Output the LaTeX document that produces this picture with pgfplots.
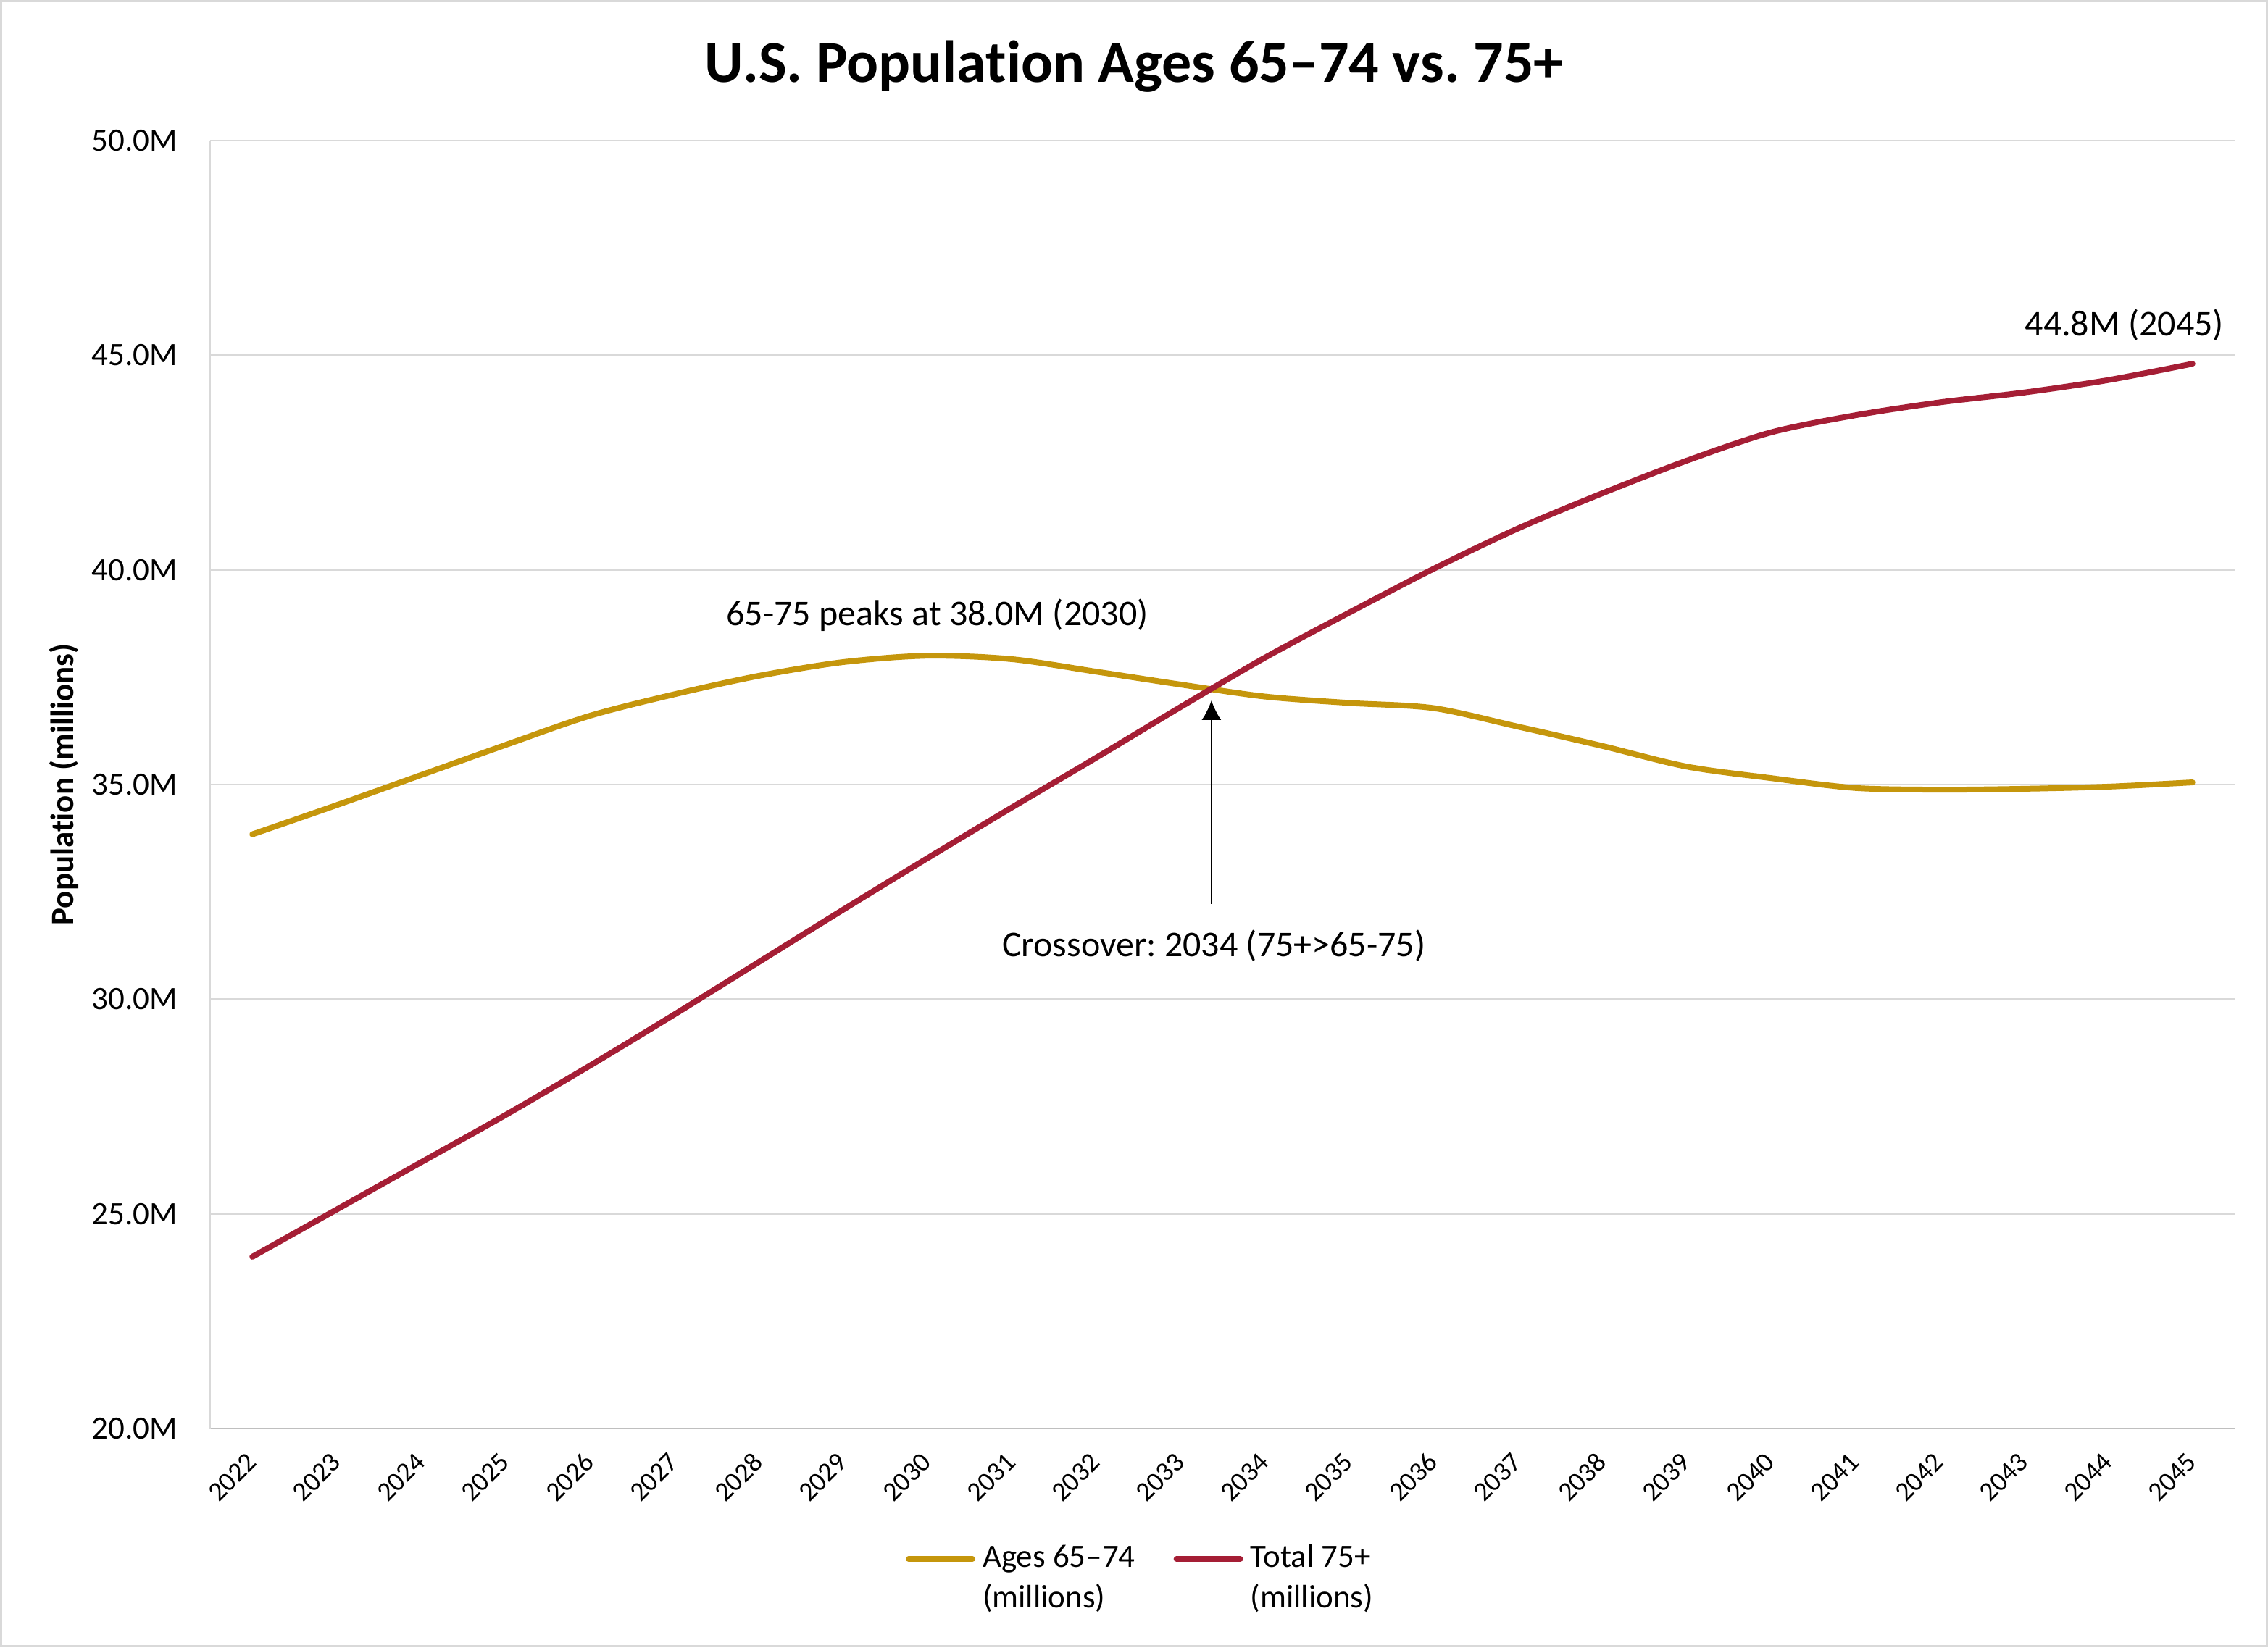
\documentclass[border=0pt]{standalone}
\usepackage{pgfplots}
\pgfplotsset{compat=1.18}
\usepackage{fontspec}
\setmainfont{Carlito}[Ligatures=NoCommon]
\usetikzlibrary{arrows.meta}
\frenchspacing

\definecolor{agesgold}{RGB}{197,150,12}
\definecolor{totalred}{RGB}{165,30,53}
\definecolor{gridgray}{RGB}{217,217,217}
\definecolor{axisgray}{RGB}{191,191,191}

% Population projections, millions
\pgfplotstableread{
year  ages6574  total75
2022  33.84     24.00
2023  34.52     25.10
2024  35.22     26.20
2025  35.92     27.30
2026  36.60     28.45
2027  37.10     29.64
2028  37.53     30.86
2029  37.85     32.08
2030  38.00     33.28
2031  37.92     34.46
2032  37.63     35.62
2033  37.33     36.80
2034  37.05     37.95
2035  36.90     39.00
2036  36.78     40.02
2037  36.35     40.96
2038  35.90     41.78
2039  35.42     42.54
2040  35.15     43.20
2041  34.92     43.60
2042  34.88     43.90
2043  34.90     44.13
2044  34.95     44.42
2045  35.05     44.80
}\popdata

\begin{document}
\begin{tikzpicture}
\useasboundingbox (-58pt,-60.4pt) rectangle (568pt,394.4pt);
\draw[gridgray, line width=0.6pt] (-57.7pt,-60.1pt) rectangle (567.7pt,394.1pt);
\begin{axis}[
  scale only axis,
  width=558.8pt, height=355.6pt,
  at={(0,0)}, anchor=south west,
  xmin=2021.5, xmax=2045.5,
  ymin=20, ymax=50,
  xtick={2022,...,2045},
  xticklabels={2022,2023,2024,2025,2026,2027,2028,2029,2030,2031,2032,2033,2034,2035,2036,2037,2038,2039,2040,2041,2042,2043,2044,2045},
  ytick={20,25,30,35,40,45,50},
  yticklabels={20.0M,25.0M,30.0M,35.0M,40.0M,45.0M,50.0M},
  major tick length=0pt,
  axis x line*=bottom,
  axis y line*=left,
  x axis line style={draw=axisgray, line width=0.35pt, -},
  y axis line style={draw=gridgray, line width=0.3pt, -},
  ymajorgrids,
  grid style={draw=gridgray, line width=0.35pt},
  yticklabel style={font=\fontsize{9}{10.8}\selectfont, anchor=east, inner sep=0pt, xshift=-8.8pt},
  xticklabel style={font=\fontsize{7.5}{9}\selectfont, inner sep=0pt, yshift=-7.9pt, rotate=45, anchor=east},
  ylabel={Population (millions)},
  ylabel style={font=\fontsize{9}{10.8}\selectfont\bfseries, at={(axis description cs:-0.0723,0.5)}, anchor=center},
  title={U.S. Population Ages 65--74 vs. 75+},
  title style={font=\fontsize{16.4}{19.7}\selectfont\bfseries, at={(axis description cs:0.4563,1)}, anchor=base, yshift=10pt},
  legend columns=2,
  legend cell align=left,
  legend style={at={(axis description cs:0.3436,-0.117)}, anchor=west, draw=none, fill=none,
    inner sep=0pt, outer sep=0pt,
    font=\fontsize{9}{11.2}\selectfont,
    cells={align=left, inner xsep=1.6pt, inner ysep=0pt},
    /tikz/every odd column/.append style={column sep=0pt},
    /tikz/every even column/.append style={column sep=8.6pt}},
  legend image code/.code={\draw[#1, line width=1.6pt, line cap=round] (0.8pt,5.6pt) -- (18.4pt,5.6pt);},
  clip=false,
]
\addplot[agesgold, line width=1.6pt, line cap=round, smooth] table[x=year, y=ages6574] {\popdata};
\addlegendentry{Ages 65--74\\(millions)}
\addplot[totalred, line width=1.6pt, line cap=round, smooth] table[x=year, y=total75] {\popdata};
\addlegendentry{Total 75+\\(millions)}

\node[font=\fontsize{10}{12}\selectfont, anchor=base] at (axis cs:2030.12,38.70) {65-75 peaks at 38.0M (2030)};
\node[font=\fontsize{10}{12}\selectfont, anchor=base] at (axis cs:2033.40,31.00) {Crossover: 2034 (75+>65-75)};
\node[font=\fontsize{10}{12}\selectfont, anchor=base east, inner sep=0pt] at (axis cs:2045.38,45.46) {44.8M (2045)};
\draw[-{Latex[length=5.4pt,width=5.4pt]}, line width=0.45pt] (axis cs:2033.37,32.22) -- (axis cs:2033.37,36.96);
\end{axis}
\end{tikzpicture}
\end{document}
